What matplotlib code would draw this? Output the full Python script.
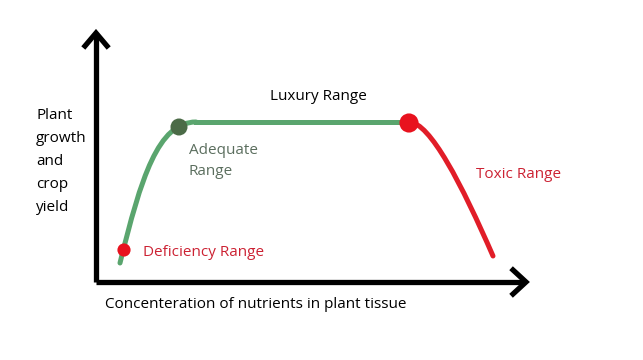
import matplotlib.pyplot as plt
from matplotlib.path import Path
from matplotlib.patches import PathPatch

# Curve (pixel-like units, y grows downward),
# given as cubic Bezier control points so the bends stay smooth
rise_x = [120, 141, 158, 196]
rise_y = [263, 178, 122, 122]
flat_x = [196, 409]
flat_y = [122, 122]
drop_x = [409, 430, 462, 493]
drop_y = [122, 122, 185, 256]

# Marker points
dot_x = [124, 179, 409]
dot_y = [250, 127, 123]
dot_size = [90, 150, 190]
dot_color = ['#e8121e', '#4b6b47', '#e8121e']

green = '#5aa56e'
red = '#e11d28'

plt.rcParams['font.family'] = ['Open Sans', 'DejaVu Sans']

fig = plt.figure(figsize=(6.43, 3.6), dpi=100)
ax = fig.add_axes([0, 0, 1, 1])
ax.set_xlim(0, 643)
ax.set_ylim(360, 0)
ax.axis('off')

# axes with open arrow heads
ax.plot([96, 96], [34, 282], color='black', lw=3.8, solid_capstyle='butt')
ax.plot([96, 524], [282, 282], color='black', lw=3.8, solid_capstyle='butt')
ax.plot([85, 96, 107], [46, 33, 46], color='black', lw=3.8, solid_joinstyle='miter')
ax.plot([513, 526, 513], [270, 282, 294], color='black', lw=3.8, solid_joinstyle='miter')


def bezier(xs, ys, color):
    codes = [Path.MOVETO, Path.CURVE4, Path.CURVE4, Path.CURVE4]
    p = Path(list(zip(xs, ys)), codes)
    ax.add_patch(PathPatch(p, facecolor='none', edgecolor=color, lw=3.6,
                           capstyle='round'))


bezier(rise_x, rise_y, green)
ax.plot(flat_x, flat_y, color=green, lw=3.6)
bezier(drop_x, drop_y, red)
ax.scatter(dot_x, dot_y, s=dot_size, c=dot_color, zorder=5, edgecolors='none')

fs = 11
ax.text(36, 108, 'Plant\ngrowth\nand\ncrop\nyield', fontsize=fs, va='top', ha='left',
        linespacing=1.72, color='black')
ax.text(270, 97, 'Luxury Range', fontsize=fs, va='center', color='black')
ax.text(189, 161, 'Adequate\nRange', fontsize=fs, va='center', color='#5b6e5e', linespacing=1.5)
ax.text(143, 253, 'Deficiency Range', fontsize=fs, va='center', color='#cc2233')
ax.text(476, 175, 'Toxic Range', fontsize=fs, va='center', color='#cc2233')
ax.text(105, 305, 'Concenteration of nutrients in plant tissue', fontsize=fs, va='center',
        color='black')

fig.savefig('out.png', dpi=100, facecolor='white')
